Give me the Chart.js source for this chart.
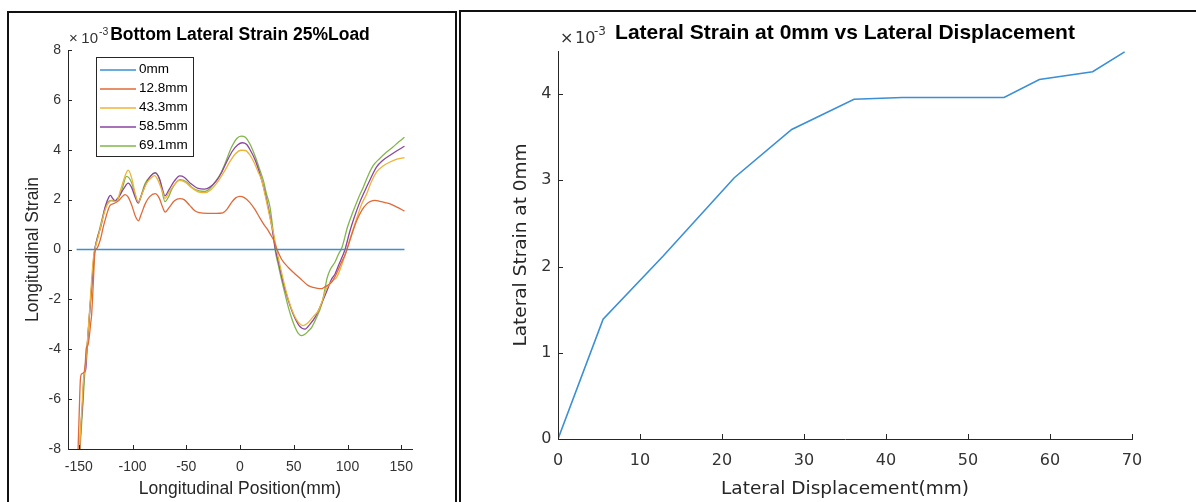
<!DOCTYPE html>
<html>
<head>
<meta charset="utf-8">
<script src="https://cdn.jsdelivr.net/npm/chart.js@4.4.0/dist/chart.umd.min.js"></script>
<style>
  html, body { margin: 0; padding: 0; background: #fff; }
  body { width: 1196px; height: 502px; position: relative; overflow: hidden; }
  canvas { position: absolute; top: 0; }
  #leftChart { left: 0; }
  #rightChart { left: 458px; }
  .frame { position: absolute; border: 2px solid #111; pointer-events: none; }
  #leftFrame { left: 7px; top: 11px; width: 446px; height: 600px; }
  #rightFrame { left: 459px; top: 10px; width: 800px; height: 600px; }
</style>
</head>
<body>
<canvas id="leftChart" width="458" height="502"></canvas>
<canvas id="rightChart" width="738" height="502"></canvas>
<div class="frame" id="leftFrame"></div>
<div class="frame" id="rightFrame"></div>
<script>
// ---- Bottom lateral strain along the longitudinal position (strain in units of 1e-3) ----
const loadCases = ['0mm', '12.8mm', '43.3mm', '58.5mm', '69.1mm'];

const pos0mm = [-152, 153];
const strain0mm = [0, 0];

const pos12_8mm = [-151, -150.4, -149.6, -148.6, -147.6, -145.2, -144, -143, -141.5, -140.2, -139, -138, -137, -136.2, -135, -133, -131, -129, -127.5, -125.6, -123, -120.9, -117, -113, -110, -107, -104, -100.5, -97, -94.5, -92, -88, -84, -79, -75, -72, -69.5, -66, -61, -56, -52, -47, -42, -38, -30, -22, -16, -12, -8, -4, 0, 4, 9, 14, 18, 22, 26, 29, 31, 34, 38.8, 45, 51, 57, 63.6, 68, 72, 76, 79, 82, 85.3, 88, 91, 94, 97.7, 99.5, 104, 108.6, 113, 117.9, 121.5, 125.6, 130, 135, 139.6, 146, 153];
const strain12_8mm = [-8.6, -7.67, -6.6, -5.3, -5.0, -4.93, -4.6, -3.95, -3.85, -3.5, -3.0, -2.6, -1.8, -1.1, -0.1, 0.05, 0.25, 0.55, 0.85, 1.16, 1.55, 1.77, 1.85, 1.95, 2.1, 2.2, 2.1, 1.75, 1.3, 1.15, 1.4, 1.85, 2.12, 2.24, 2.05, 1.7, 1.5, 1.68, 1.95, 2.04, 2.0, 1.78, 1.55, 1.48, 1.45, 1.45, 1.47, 1.62, 1.88, 2.07, 2.13, 2.08, 1.89, 1.6, 1.3, 1.02, 0.78, 0.55, 0.4, 0.05, -0.4, -0.72, -0.97, -1.2, -1.45, -1.52, -1.56, -1.57, -1.5, -1.42, -1.31, -1.12, -0.85, -0.55, -0.22, 0, 0.6, 1.16, 1.55, 1.83, 1.93, 1.97, 1.93, 1.88, 1.83, 1.7, 1.54];

const pos43_3mm = [-149.5, -148.6, -147, -145.5, -144, -142, -140, -138, -136.5, -135, -132, -128, -124, -119.4, -115, -111, -106.5, -104, -101, -97.5, -94.6, -91, -87, -82, -79.5, -76, -72, -69.8, -66, -61, -56, -51, -45, -38, -32.6, -27, -21, -15, -9, -4, 1, 5, 9, 13, 17, 20.2, 23.5, 26.4, 29, 31, 34.1, 37, 41, 45, 50, 54, 58.9, 63, 68, 72.9, 77, 80, 82.2, 86, 90, 94, 99.3, 104, 109, 113, 117.9, 122, 127.1, 133, 139.6, 146, 153];
const strain43_3mm = [-8.6, -7.5, -6.3, -5.2, -4.75, -3.7, -2.5, -1.2, -0.4, 0.0, 0.5, 1.2, 1.75, 1.95, 1.92, 2.4, 3.0, 3.18, 2.9, 2.25, 1.9, 2.25, 2.65, 2.9, 2.96, 2.75, 2.3, 2.05, 2.3, 2.6, 2.77, 2.7, 2.48, 2.3, 2.28, 2.4, 2.7, 3.1, 3.55, 3.85, 3.98, 3.97, 3.8, 3.5, 3.1, 2.77, 2.15, 1.57, 1.05, 0.7, 0.0, -0.6, -1.35, -2.0, -2.6, -2.9, -3.05, -2.95, -2.7, -2.45, -2.0, -1.6, -1.45, -1.25, -1.11, -0.7, 0.0, 0.65, 1.3, 1.8, 2.24, 2.7, 3.11, 3.35, 3.51, 3.62, 3.68];

const pos58_5mm = [-149.3, -148.5, -146.5, -145, -143.5, -142, -140, -137.5, -135.5, -133, -129, -125.5, -122, -120.5, -118.5, -116.3, -113, -108, -104, -101, -97.5, -95, -91.5, -88, -83, -79, -75, -72, -69.8, -66, -61, -56, -52, -46, -39, -33, -28, -22, -17, -12, -7, -2, 2, 6, 10, 14, 18, 22, 26, 29.5, 33, 36, 40, 45, 50, 55, 60.5, 65, 69.8, 74, 78, 82.2, 85, 88.4, 92, 97.7, 102, 106, 111, 116.3, 121, 127.1, 133, 139.6, 146, 153];
const strain58_5mm = [-8.6, -7.5, -6.2, -5.0, -4.8, -3.8, -2.6, -1.2, -0.1, 0.4, 1.0, 1.7, 2.1, 2.17, 2.05, 1.95, 2.1, 2.45, 2.66, 2.5, 2.1, 1.88, 2.2, 2.6, 2.95, 3.07, 2.85, 2.4, 2.15, 2.4, 2.75, 2.95, 2.9, 2.65, 2.45, 2.42, 2.5, 2.75, 3.1, 3.55, 3.95, 4.2, 4.28, 4.22, 3.95, 3.6, 3.1, 2.5, 1.75, 0.95, 0.0, -0.55, -1.3, -2.05, -2.65, -3.05, -3.19, -3.0, -2.72, -2.35, -1.95, -1.51, -1.2, -0.98, -0.6, 0.0, 0.7, 1.25, 1.85, 2.37, 2.8, 3.31, 3.58, 3.78, 3.96, 4.14];

const pos69_1mm = [-149.5, -148.8, -146.3, -144.2, -142, -139.5, -136.4, -134.5, -131, -128.7, -124.1, -119.4, -114.8, -110.1, -105.5, -101, -97.5, -94.6, -91, -88.4, -83, -79, -74.5, -69.8, -66, -63.6, -56, -50, -45, -38, -32.6, -28, -23.3, -18, -14, -7.8, -3, 1, 5, 9, 14, 18, 21.7, 24.5, 27.9, 30.5, 32.6, 35.5, 38.8, 42, 45, 48, 51.2, 54, 57.4, 61, 64, 66.7, 71, 76, 78.5, 81, 84, 88.4, 91.5, 95, 100, 105, 110, 114.7, 119, 124, 130, 136.4, 142, 148, 153];
const strain69_1mm = [-8.6, -8.0, -6.3, -4.85, -3.8, -2.3, -0.7, 0.1, 0.75, 1.16, 1.83, 1.97, 1.95, 2.37, 2.93, 2.7, 2.2, 1.85, 2.3, 2.64, 2.95, 3.08, 2.77, 1.92, 2.15, 2.4, 2.8, 2.72, 2.5, 2.35, 2.33, 2.45, 2.7, 3.05, 3.44, 4.11, 4.45, 4.55, 4.5, 4.25, 3.75, 3.25, 2.77, 2.25, 1.7, 0.85, 0.0, -0.6, -1.24, -1.8, -2.32, -2.75, -3.12, -3.35, -3.45, -3.38, -3.25, -3.12, -2.75, -2.2, -1.7, -1.15, -0.8, -0.5, -0.2, 0.1, 0.9, 1.5, 2.05, 2.5, 2.95, 3.37, 3.65, 3.91, 4.1, 4.33, 4.5];

const positionTicks = [-150, -100, -50, 0, 50, 100, 150];
const strainTicks = [-8, -6, -4, -2, 0, 2, 4, 6, 8];

// ---- Lateral strain at 0mm vs lateral displacement (strain in units of 1e-3) ----
const displacement = [0, 5.5, 12.8, 21.5, 28.5, 36.1, 42, 54.4, 58.7, 65.2, 69.1];
const strainAt0mm = [0, 1.39, 2.12, 3.03, 3.59, 3.94, 3.96, 3.96, 4.17, 4.26, 4.49];
const displacementTicks = [0, 10, 20, 30, 40, 50, 60, 70];
const strainAt0mmTicks = [0, 1, 2, 3, 4];

const seriesColors = ['#3a8fd5', '#e06a38', '#ecb438', '#8a45a0', '#82b64a'];
const axisColor = '#262626';
const labelColor = '#333333';

const toPoints = (xs, ys) => xs.map((x, i) => ({ x, y: ys[i] }));

// Inward tick marks, bold title, exponent marker and in-axes legend
const axisDecor = {
  id: 'axisDecor',
  afterDraw(chart, args, o) {
    const { ctx, chartArea, scales } = chart;
    const xs = scales.x, ys = scales.y;
    ctx.save();
    ctx.strokeStyle = axisColor;
    ctx.lineWidth = 1;
    ctx.beginPath();
    xs.ticks.forEach(t => {
      const px = Math.round(xs.getPixelForValue(t.value)) + 0.5;
      ctx.moveTo(px, chartArea.bottom);
      ctx.lineTo(px, chartArea.bottom - o.tickLen);
    });
    ys.ticks.forEach(t => {
      const py = Math.round(ys.getPixelForValue(t.value)) + 0.5;
      ctx.moveTo(chartArea.left, py);
      ctx.lineTo(chartArea.left + o.tickLen, py);
    });
    ctx.stroke();

    // title
    ctx.fillStyle = '#000';
    ctx.font = o.titleFont;
    ctx.textAlign = 'center';
    ctx.textBaseline = 'alphabetic';
    ctx.fillText(o.title, (chartArea.left + chartArea.right) / 2, o.titleBaseline);

    // exponent marker  ×10^-3
    ctx.fillStyle = labelColor;
    ctx.textAlign = 'left';
    ctx.font = o.expFont;
    ctx.fillText('\u00d7', chartArea.left + o.exp[0], o.expBaseline);
    ctx.fillText('10', chartArea.left + o.exp[1], o.expBaseline);
    ctx.font = o.supFont;
    ctx.fillText('-3', chartArea.left + o.exp[2], o.supBaseline);

    // legend box
    if (o.legend) {
      const L = o.legend;
      ctx.fillStyle = '#fff';
      ctx.fillRect(L.x, L.y, L.w, L.h);
      ctx.strokeStyle = axisColor;
      ctx.strokeRect(L.x + 0.5, L.y + 0.5, L.w, L.h);
      ctx.font = L.font;
      ctx.textBaseline = 'middle';
      chart.data.datasets.forEach((ds, i) => {
        const cy = L.y + L.first + i * L.step;
        ctx.strokeStyle = ds.borderColor;
        ctx.lineWidth = 1.5;
        ctx.beginPath();
        ctx.moveTo(L.x + L.lineFrom, Math.round(cy));
        ctx.lineTo(L.x + L.lineTo, Math.round(cy));
        ctx.stroke();
        ctx.fillStyle = '#000';
        ctx.fillText(ds.label, L.x + L.textX, cy);
      });
    }
    ctx.restore();
  }
};

function fixedScale(values, size, horizontal) {
  return {
    afterBuildTicks: s => { s.ticks = values.map(v => ({ value: v })); },
    afterFit: s => {
      if (horizontal) s.height = size; else s.width = size;
      s.paddingLeft = 0; s.paddingRight = 0; s.paddingTop = 0; s.paddingBottom = 0;
    }
  };
}

// ---- left chart ----
const leftSeries = [
  toPoints(pos0mm, strain0mm),
  toPoints(pos12_8mm, strain12_8mm),
  toPoints(pos43_3mm, strain43_3mm),
  toPoints(pos58_5mm, strain58_5mm),
  toPoints(pos69_1mm, strain69_1mm)
];

new Chart(document.getElementById('leftChart'), {
  type: 'line',
  data: {
    datasets: leftSeries.map((pts, i) => ({
      label: loadCases[i],
      data: pts,
      borderColor: seriesColors[i],
      borderWidth: i === 0 ? 1.6 : 1.3,
      pointRadius: 0,
      fill: false,
      cubicInterpolationMode: 'monotone'
    }))
  },
  options: {
    responsive: false,
    animation: false,
    events: [],
    layout: { padding: { left: 0, top: 50, right: 46, bottom: 0 } },
    plugins: {
      legend: { display: false },
      tooltip: { enabled: false },
      axisDecor: {
        tickLen: 4,
        title: 'Bottom Lateral Strain 25%Load',
        titleFont: 'bold 17.5px "Liberation Sans", Arial, sans-serif',
        titleBaseline: 40,
        expFont: '15px "Liberation Sans", Arial, sans-serif',
        supFont: '10.5px "Liberation Sans", Arial, sans-serif',
        exp: [1, 13.3, 31],
        expBaseline: 43,
        supBaseline: 35,
        legend: { x: 96, y: 57, w: 97, h: 99, first: 12.5, step: 19, lineFrom: 4, lineTo: 40, textX: 43,
                  font: '13.5px "Liberation Sans", Arial, sans-serif' }
      }
    },
    scales: {
      x: {
        type: 'linear', min: -160, max: 160,
        ...fixedScale(positionTicks, 53, true),
        grid: { display: false, drawTicks: false },
        border: { display: true, color: axisColor, width: 1 },
        ticks: { color: labelColor, padding: 9.5, font: { family: '"Liberation Sans", Arial, sans-serif', size: 14 } },
        title: { display: true, text: 'Longitudinal Position(mm)', color: axisColor,
                 padding: { top: 0, bottom: 2.5 },
                 font: { family: '"Liberation Sans", Arial, sans-serif', size: 17.5 } }
      },
      y: {
        type: 'linear', min: -8, max: 8,
        ...fixedScale(strainTicks, 68, false),
        grid: { display: false, drawTicks: false },
        border: { display: true, color: axisColor, width: 1 },
        ticks: { color: labelColor, padding: 7, font: { family: '"Liberation Sans", Arial, sans-serif', size: 14 } },
        title: { display: true, text: 'Longitudinal Strain', color: axisColor,
                 padding: { top: 22.5, bottom: 0 },
                 font: { family: '"Liberation Sans", Arial, sans-serif', size: 17.5 } }
      }
    }
  },
  plugins: [axisDecor]
});

// ---- right chart ----
new Chart(document.getElementById('rightChart'), {
  type: 'line',
  data: {
    datasets: [{
      label: 'Lateral Strain at 0mm',
      data: toPoints(displacement, strainAt0mm),
      borderColor: seriesColors[0],
      borderWidth: 1.6,
      pointRadius: 0,
      fill: false,
      tension: 0
    }]
  },
  options: {
    responsive: false,
    animation: false,
    events: [],
    layout: { padding: { left: 0, top: 51, right: 64, bottom: 0 } },
    plugins: {
      legend: { display: false },
      tooltip: { enabled: false },
      axisDecor: {
        tickLen: 5,
        title: 'Lateral Strain at 0mm vs Lateral Displacement',
        titleFont: 'bold 21px "Liberation Sans", Arial, sans-serif',
        titleBaseline: 39,
        expFont: '16px "DejaVu Sans", sans-serif',
        supFont: '12px "DejaVu Sans", sans-serif',
        exp: [2, 17, 36],
        expBaseline: 43,
        supBaseline: 35
      }
    },
    scales: {
      x: {
        type: 'linear', min: 0, max: 70,
        ...fixedScale(displacementTicks, 63, true),
        grid: { display: false, drawTicks: false },
        border: { display: true, color: axisColor, width: 1 },
        ticks: { color: labelColor, padding: 12.4, font: { family: '"DejaVu Sans", sans-serif', size: 16 } },
        title: { display: true, text: 'Lateral Displacement(mm)', color: axisColor,
                 padding: { top: 0, bottom: 1.9 },
                 font: { family: '"DejaVu Sans", sans-serif', size: 18.5 } }
      },
      y: {
        type: 'linear', min: 0, max: 4.5,
        ...fixedScale(strainAt0mmTicks, 100, false),
        grid: { display: false, drawTicks: false },
        border: { display: true, color: axisColor, width: 1 },
        ticks: { color: labelColor, padding: 6.5, font: { family: '"DejaVu Sans", sans-serif', size: 16 } },
        title: { display: true, text: 'Lateral Strain at 0mm', color: axisColor,
                 padding: { top: 51.9, bottom: 0 },
                 font: { family: '"DejaVu Sans", sans-serif', size: 18.5 } }
      }
    }
  },
  plugins: [axisDecor]
});
</script>
</body>
</html>
